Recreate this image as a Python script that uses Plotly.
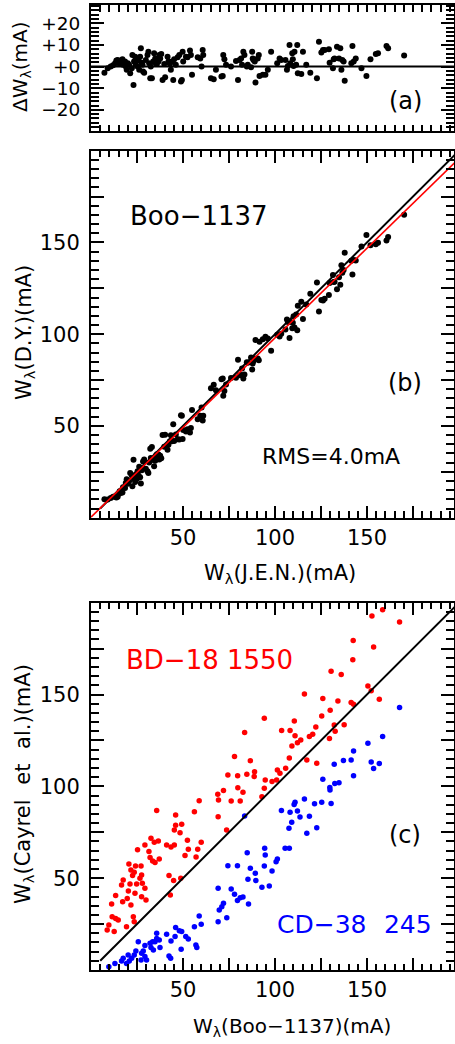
import plotly.graph_objects as go

# ---------------------------------------------------------------------------
# Panels (a) and (b): J.E.N. equivalent widths (mA) and residuals J.E.N. - D.Y.
# ---------------------------------------------------------------------------
jen_w = [
    7.3, 9.1, 10.7, 12.0, 13.1, 13.8, 14.5, 15.3, 15.6, 16.4,
    17.1, 17.4, 18.0, 18.5, 18.9, 19.4, 20.0, 20.7, 21.3, 22.2,
    22.5, 23.1, 23.4, 24.0, 24.3, 24.9, 25.3, 25.8, 26.2, 26.7,
    27.1, 27.6, 28.0, 28.3, 28.9, 29.8, 30.7, 31.2, 31.6, 32.2,
    32.5, 33.1, 33.8, 34.3, 34.9, 35.2, 35.8, 36.7, 37.1, 37.6,
    38.2, 38.9, 39.8, 40.3, 41.6, 42.1, 42.9, 43.4, 44.0, 44.7,
    45.2, 46.1, 47.1, 48.0, 48.9, 49.4, 49.8, 50.1, 51.6, 52.5,
    53.8, 54.3, 54.9, 58.0, 59.4, 60.1, 60.7, 61.0, 65.2, 66.7,
    67.9, 70.9, 71.6, 71.9, 72.5, 73.4, 76.1, 78.8, 79.9, 80.7,
    81.6, 82.1, 82.8, 83.4, 84.7, 85.2, 87.0, 87.6, 87.9, 88.3,
    89.0, 89.4, 90.6, 91.2, 91.6, 93.4, 94.8, 96.1, 97.9, 101.2,
    102.5, 103.4, 105.7, 106.5, 107.0, 107.9, 108.3, 109.4, 109.7, 110.1,
    110.6, 111.5, 112.1, 112.4, 114.3, 115.2, 117.0, 119.2, 122.8, 123.9,
    125.2, 126.1, 127.0, 129.3, 129.7, 131.5, 131.9, 132.4, 133.7, 134.8,
    135.5, 136.1, 136.6, 137.3, 137.9, 141.5, 142.1, 142.8, 143.9, 147.0,
    149.7, 151.9, 154.8, 156.0, 160.6, 161.5, 170.2,
]
delta_w = [
    -2.8, -0.8, 0.0, 0.6, 1.5, 2.8, 3.1, 2.3, 1.2, 2.8,
    3.4, 0.8, 1.5, 2.3, 0.0, -1.5, 1.5, 0.8, -3.1, -0.8,
    5.4, -8.5, 2.3, 4.6, 0.8, 3.8, 0.0, 2.8, -1.5, 4.6,
    8.5, 1.8, 0.8, -2.3, -2.8, 3.1, 5.4, 6.9, 1.5, -5.4,
    0.0, -5.4, 2.3, 6.2, 3.8, 1.5, 1.2, 2.3, 5.4, 3.8,
    5.8, -6.2, 1.2, -4.9, 4.6, 2.3, 1.2, -1.5, 2.3, -6.2,
    3.4, 0.8, 4.3, 5.4, -6.9, -6.2, 6.9, 2.3, 4.6, 4.3,
    7.4, 5.4, -3.8, 4.3, 3.8, 0.0, 7.7, 5.4, -5.4, -5.8,
    -1.5, -4.6, -4.3, 5.4, 3.4, 0.8, 0.0, 2.6, -6.2, 3.1,
    3.8, 0.8, 6.9, 5.4, 0.0, 0.8, -0.3, 6.9, 3.8, 3.1,
    2.3, -7.4, 3.8, 5.4, -4.3, -3.8, -3.8, -1.5, 6.9, 1.5,
    3.8, 3.1, 3.1, -1.5, 0.3, 10.0, 1.5, 6.2, 3.4, 0.3,
    6.9, 0.8, 10.0, -3.1, -3.4, 6.9, 0.8, -2.8, -5.4, 11.5,
    6.5, 7.7, 7.7, 8.0, 1.8, -0.8, 3.4, 3.8, 9.2, 3.8,
    8.5, -1.5, 3.1, 2.3, -6.5, 1.5, 9.5, 2.3, 3.8, -0.8,
    -4.3, 3.4, 5.8, 6.2, 9.5, 8.5, 5.1,
]
# D.Y. widths follow from the residual definition
dy_w = [round(x - d, 1) for x, d in zip(jen_w, delta_w)]

# linear relation D.Y. = fit_icpt + fit_slope * J.E.N.
fit_slope, fit_icpt = 0.977, 0.3
fit_x = [0, 200]

# ---------------------------------------------------------------------------
# Panel (c): Cayrel et al. widths against Boo-1137 widths for two stars
# ---------------------------------------------------------------------------
bd18_boo = [
    8.8, 9.7, 11.2, 11.5, 12.6, 13.4, 13.4, 14.8, 16.6, 17.2,
    17.5, 19.3, 19.7, 20.3, 20.6, 21.2, 21.7, 21.7, 22.6, 23.0,
    23.5, 23.5, 23.9, 24.2, 24.8, 25.3, 26.6, 27.2, 27.5, 27.5,
    27.9, 29.3, 29.3, 29.9, 31.5, 32.1, 32.6, 33.5, 34.4, 34.8,
    35.7, 36.6, 37.1, 41.1, 42.4, 43.1, 43.5, 44.9, 45.3, 45.3,
    46.0, 46.0, 48.4, 48.8, 49.3, 51.1, 52.4, 52.9, 56.2, 57.1,
    58.0, 58.8, 59.9, 68.9, 69.1, 69.3, 72.0, 73.7, 76.2, 79.8,
    81.1, 82.6, 92.9, 94.2,
    74.4, 78.0, 79.7, 83.5, 84.7, 86.6, 88.9, 88.7, 94.2, 94.7,
    98.4, 100.9, 101.3, 102.7, 103.6, 105.8, 107.8, 108.2, 109.2, 110.5,
    110.9, 112.2, 114.0, 116.0, 117.3, 118.7, 120.5, 122.2, 122.7, 125.4,
    126.0, 129.6, 130.0, 130.5, 132.2, 132.7, 134.2, 136.0, 137.6, 141.4,
    142.3, 142.5, 142.7, 150.5, 152.3, 152.7, 153.6, 156.7, 158.5, 167.7,
]
bd18_cayrel = [
    21.8, 24.5, 35.9, 29.0, 20.9, 28.1, 40.5, 27.2, 46.3, 37.2,
    49.0, 23.6, 39.0, 43.0, 57.7, 46.8, 35.4, 54.5, 51.4, 29.0,
    26.3, 53.2, 41.8, 56.6, 46.8, 65.5, 49.9, 56.6, 51.7, 39.9,
    47.2, 44.5, 68.1, 38.1, 64.5, 61.2, 71.7, 59.4, 69.5, 58.6,
    86.8, 70.3, 60.5, 68.1, 51.4, 40.8, 67.0, 48.7, 68.1, 76.3,
    84.4, 78.8, 74.8, 49.9, 79.3, 62.3, 70.6, 65.7, 86.2, 61.5,
    65.7, 92.2, 69.5, 95.7, 83.5, 92.6, 97.7, 76.3, 92.0, 99.3,
    92.0, 96.8, 94.4, 98.9,
    106.2, 116.2, 105.8, 129.3, 106.6, 114.0, 108.0, 105.3, 137.1, 103.5,
    102.6, 103.5, 108.9, 107.1, 130.4, 109.8, 115.5, 130.4, 122.0, 135.6,
    127.5, 123.8, 125.3, 150.3, 114.4, 127.1, 128.4, 132.3, 112.6, 138.3,
    147.9, 126.0, 141.4, 162.7, 133.4, 130.0, 146.5, 160.9, 133.6, 145.6,
    168.9, 179.4, 144.7, 154.7, 152.1, 192.8, 175.9, 147.4, 196.1, 189.5,
]
cd38_boo = [
    9.7, 13.0, 16.6, 17.5, 19.3, 20.2, 20.8, 22.1, 23.5, 24.4,
    25.7, 27.2, 27.5, 28.4, 29.3, 29.3, 30.2, 32.1, 32.6, 33.5,
    33.9, 34.8, 35.7, 35.7, 37.1, 37.5, 41.1, 42.4, 43.3, 43.5,
    45.7, 46.0, 48.0, 49.0, 49.3, 51.5, 52.9, 56.2, 57.0, 57.5,
    58.8, 59.9, 69.1, 69.1, 69.7, 71.1, 72.0, 73.8, 74.4, 76.2,
    78.0, 79.6, 79.6, 81.1, 82.6, 83.5, 84.9, 85.3, 85.6, 86.6,
    89.3, 89.6, 92.9, 94.2, 94.4, 94.7, 96.9, 98.4, 100.6, 101.3,
    103.5, 105.5, 107.6, 107.8, 108.2, 109.1, 110.4, 110.9, 112.2, 113.6,
    116.0, 117.3, 118.7, 121.5, 122.7, 125.4, 126.0, 129.8, 129.9, 130.5,
    132.2, 132.5, 134.8, 137.2, 141.4, 142.7, 142.7, 150.5, 152.3, 153.6,
    156.7, 158.5, 167.7,
]
cd38_cayrel = [
    1.8, 3.6, 4.9, 6.4, 3.6, 8.2, 4.9, 6.4, 8.2, 10.3,
    15.4, 5.4, 9.1, 10.3, 7.3, 13.3, 5.4, 14.5, 12.2, 15.4,
    10.9, 15.4, 17.2, 20.0, 16.3, 12.2, 19.4, 7.6, 6.4, 15.8,
    18.2, 23.2, 21.4, 11.3, 20.9, 18.2, 16.9, 23.6, 13.6, 12.2,
    29.4, 24.9, 26.3, 44.5, 32.7, 34.5, 36.3, 28.5, 56.8, 44.1,
    41.2, 37.9, 56.8, 39.4, 39.8, 83.9, 63.9, 49.4, 35.9, 55.4,
    52.7, 48.7, 45.0, 56.6, 66.3, 62.6, 45.8, 53.9, 59.0, 60.5,
    86.8, 66.3, 77.2, 66.3, 85.9, 80.4, 90.1, 91.3, 86.6, 83.3,
    93.1, 74.4, 83.7, 90.5, 77.5, 91.3, 103.8, 99.4, 98.0, 90.6,
    112.1, 101.6, 102.0, 114.1, 114.4, 105.8, 119.3, 123.5, 113.3, 109.7,
    112.5, 127.1, 143.0,
]

one_to_one = [5, 200]            # equality line endpoints (mA)
x_major = [25, 50, 75, 100, 125, 150, 175]
x_labels = ["", "50", "", "100", "", "150", ""]
w_major = [25, 50, 75, 100, 125, 150, 175]
w_labels = ["", "50", "", "100", "", "150", ""]
d_major = [-20, -10, 0, 10, 20]
d_labels = ["\u221220", "\u221210", "+0", "+10", "+20"]

fit_y = [fit_icpt + fit_slope * v for v in fit_x]

# ---------------------------------------------------------------------------
W, H = 455, 1044
L, R = 91, 454
FONT = "DejaVu Sans"
GAP = "\u2002\u2009"   # wide word gap used in the labels


def fx(p):
    return (p - L) / (R - L)


def fy(p):
    return 1 - p / H


def dom(top, bottom):
    return [fy(bottom), fy(top)]


fig = go.Figure()
dot = dict(color="black", size=6)
fig.add_trace(go.Scatter(x=jen_w, y=delta_w, mode="markers", marker=dot,
                         xaxis="x", yaxis="y", showlegend=False))
fig.add_trace(go.Scatter(x=jen_w, y=dy_w, mode="markers", marker=dot,
                         xaxis="x2", yaxis="y2", showlegend=False))
fig.add_trace(go.Scatter(x=one_to_one, y=one_to_one, mode="lines",
                         line=dict(color="black", width=2),
                         xaxis="x2", yaxis="y2", showlegend=False))
fig.add_trace(go.Scatter(x=fit_x, y=fit_y, mode="lines",
                         line=dict(color="red", width=1.6),
                         xaxis="x2", yaxis="y2", showlegend=False))
fig.add_trace(go.Scatter(x=bd18_boo, y=bd18_cayrel, mode="markers",
                         marker=dict(color="red", size=5.5),
                         xaxis="x3", yaxis="y3", showlegend=False))
fig.add_trace(go.Scatter(x=cd38_boo, y=cd38_cayrel, mode="markers",
                         marker=dict(color="blue", size=5.5),
                         xaxis="x3", yaxis="y3", showlegend=False))
fig.add_trace(go.Scatter(x=one_to_one, y=one_to_one, mode="lines",
                         line=dict(color="black", width=2),
                         xaxis="x3", yaxis="y3", showlegend=False))

base = dict(showline=True, linecolor="black", linewidth=2, mirror="ticks",
            ticks="inside", tickcolor="black", tickwidth=1.5,
            showgrid=False, zeroline=False)


def xaxis(anchor, labels):
    return dict(base, anchor=anchor, domain=[0, 1], range=[0, 197.3],
                tickmode="array", tickvals=x_major,
                ticktext=labels if labels else [""] * len(x_major),
                showticklabels=labels is not None, ticklen=12,
                tickfont=dict(family=FONT, size=21, color="black"),
                minor=dict(tick0=0, dtick=5, ticklen=6.5, tickwidth=1.5,
                           tickcolor="black", ticks="inside", showgrid=False))


def yaxis(anchor, domain, rng, vals, labels, minor_step, size):
    return dict(base, anchor=anchor, domain=domain, range=rng,
                tickmode="array", tickvals=vals, ticktext=labels, ticklen=13,
                ticklabelstandoff=5,
                tickfont=dict(family=FONT, size=size, color="black"),
                minor=dict(tick0=0, dtick=minor_step, ticklen=8, tickwidth=1.5,
                           tickcolor="black", ticks="inside", showgrid=False))


fig.update_layout(
    width=W, height=H,
    margin=dict(l=L, r=W - R, t=0, b=0),
    paper_bgcolor="white", plot_bgcolor="white",
    font=dict(family=FONT, color="black"),
    xaxis=xaxis("y", None),
    yaxis=yaxis("x", dom(5, 131), [-29.8, 28.5], d_major, d_labels, 2, 18.5),
    xaxis2=xaxis("y2", x_labels),
    yaxis2=yaxis("x2", dom(150.7, 517.7), [0, 200], w_major, w_labels, 5, 21),
    xaxis3=xaxis("y3", x_labels),
    yaxis3=yaxis("x3", dom(602.7, 970), [0, 200], w_major, w_labels, 5, 21),
)

fig.add_shape(type="line", xref="x", yref="y", x0=0, x1=197.3, y0=0, y1=0,
              line=dict(color="black", width=2))


def note(text, px, py, size, color="black", angle=0):
    fig.add_annotation(text=text, x=fx(px), y=fy(py), xref="paper", yref="paper",
                       xanchor="center", yanchor="middle", showarrow=False,
                       textangle=angle, font=dict(family=FONT, size=size, color=color))


note("\u0394W<sub>\u03bb</sub>(mA)", 21, 67, 20, angle=-90)
note("W<sub>\u03bb</sub>(D.Y.)(mA)", 25, 333, 21, angle=-90)
note("W<sub>\u03bb</sub>(J.E.N.)(mA)", 280, 574, 21)
note("W<sub>\u03bb</sub>(Cayrel" + GAP + "et" + GAP + "al.)(mA)", 24, 784, 21, angle=-90)
note("W<sub>\u03bb</sub>(Boo\u22121137)(mA)", 292, 1027, 20)
note("(a)", 405, 101, 24)
note("(b)", 405, 383, 24)
note("(c)", 405, 835, 24)
note("Boo\u22121137", 198.5, 215.5, 26)
note("RMS=4.0mA", 330.7, 456, 22)
note("BD\u221218 1550", 209, 660, 26, color="red")
note("CD\u221238" + GAP + "245", 354, 924, 25, color="blue")

fig.write_html("out.html")
